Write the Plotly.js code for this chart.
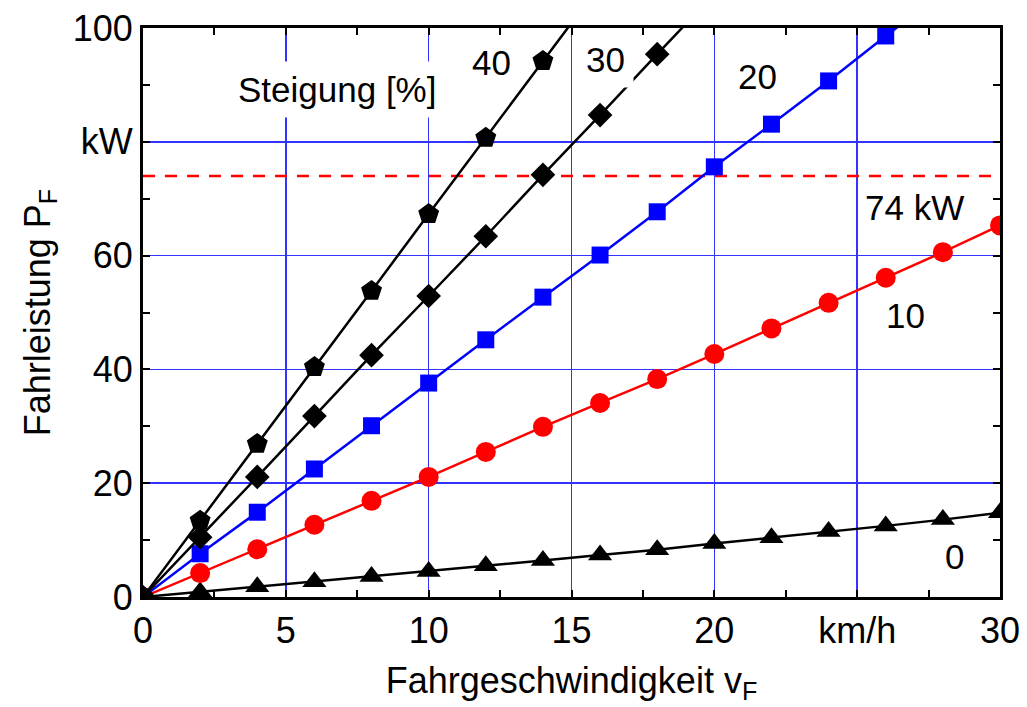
<!DOCTYPE html>
<html>
<head>
<meta charset="utf-8">
<script src="https://cdn.plot.ly/plotly-3.0.1.min.js"></script>
<style>html,body{margin:0;padding:0;background:#fff;}#chart{width:1027px;height:707px;}</style>
</head>
<body>
<div id="chart"></div>
<script>
// Speed (km/h)
const speed = [0, 2, 4, 6, 8, 10, 12, 14, 16, 18, 20, 22, 24, 26, 28, 30];
// Power (kW) per gradient
const p0  = [0, 0.9, 1.8, 2.7, 3.6, 4.5, 5.5, 6.4, 7.4, 8.3, 9.4, 10.4, 11.5, 12.5, 13.6, 14.8];
const p10 = [0, 4.2, 8.4, 12.7, 16.9, 21.1, 25.5, 29.9, 34.1, 38.3, 42.7, 47.2, 51.7, 56.1, 60.6, 65.3];
const p20 = [0, 7.6, 14.9, 22.5, 30.1, 37.6, 45.2, 52.7, 60.1, 67.7, 75.6, 83.1, 90.7, 98.6, 106.2];
const p30 = [0, 10.5, 21.1, 31.8, 42.5, 52.9, 63.4, 74.2, 84.7, 95.4, 106.0];
const p40 = [0, 13.4, 26.9, 40.4, 53.8, 67.3, 80.7, 94.2, 107.6];
const limitKW = 74;
const xRange = [0, 30];
const yRange = [0, 100];
const xTickVals = [0, 5, 10, 15, 20, 25, 30];
const xTickText = ['0', '5', '10', '15', '20', 'km/h', '30'];
const yTickVals = [0, 20, 40, 60, 80, 100];
const yTickText = ['0', '20', '40', '60', 'kW', '100'];
const labels = [
  {text: 'Steigung [%]', x: 6.8, y: 89.2, bg: true},
  {text: '40', x: 12.2, y: 94.0, bg: false},
  {text: '30', x: 16.2, y: 94.4, bg: true},
  {text: '20', x: 21.5, y: 91.4, bg: false},
  {text: '74 kW', x: 27.0, y: 68.5, bg: false},
  {text: '10', x: 26.7, y: 49.4, bg: false},
  {text: '0', x: 28.4, y: 7.2, bg: false}
];

const FONT = 'Arial, "Liberation Sans", sans-serif';

function series(y, color, symbol, size) {
  return {
    x: speed.slice(0, y.length), y: y, type: 'scatter', mode: 'lines+markers',
    line: {color: color, width: 2.5},
    marker: {color: color, symbol: symbol, size: size},
    cliponaxis: true, showlegend: false, hoverinfo: 'skip'
  };
}

const traces = [
  {x: xRange, y: [limitKW, limitKW], type: 'scatter', mode: 'lines',
   line: {color: '#ff0000', width: 2.5, dash: '12px,10px'}, showlegend: false, hoverinfo: 'skip'},
  series(p0, '#000000', 'triangle-up', 21),
  series(p10, '#ff0000', 'circle', 20),
  series(p20, '#0000ff', 'square', 17),
  series(p30, '#000000', 'diamond', 19),
  series(p40, '#000000', 'pentagon', 22)
];

const axisCommon = {
  showgrid: true, gridcolor: '#3333ff', gridwidth: 1.5,
  zeroline: false, showline: true, linecolor: '#000', linewidth: 3, mirror: 'ticks',
  ticks: 'inside', ticklen: 7, tickwidth: 2, tickcolor: '#000',
  tickfont: {family: FONT, size: 36, color: '#000'},
  tickmode: 'array', fixedrange: true
};

const layout = {
  width: 1027, height: 707,
  margin: {l: 143, r: 27, t: 28, b: 110},
  paper_bgcolor: '#fff', plot_bgcolor: '#fff',
  font: {family: FONT, color: '#000'},
  xaxis: Object.assign({}, axisCommon, {
    range: xRange, tickvals: xTickVals, ticktext: xTickText,
    minor: {tickmode: 'linear', tick0: 0, dtick: 2.5, ticks: 'inside', ticklen: 7, tickwidth: 2, tickcolor: '#000', showgrid: false},
    title: {text: 'Fahrgeschwindigkeit v<sub>F</sub>', font: {family: FONT, size: 36, color: '#000'}, standoff: 18}
  }),
  yaxis: Object.assign({}, axisCommon, {
    range: yRange, tickvals: yTickVals, ticktext: yTickText,
    minor: {tickmode: 'linear', tick0: 0, dtick: 10, ticks: 'inside', ticklen: 7, tickwidth: 2, tickcolor: '#000', showgrid: false},
    title: {text: 'Fahrleistung P<sub>F</sub>', font: {family: FONT, size: 36, color: '#000'}, standoff: 12}
  }),
  annotations: labels.map(l => ({
    text: l.text, x: l.x, y: l.y, xref: 'x', yref: 'y', showarrow: false,
    font: {family: FONT, size: 35, color: '#000'},
    bgcolor: l.bg ? '#ffffff' : 'rgba(0,0,0,0)', borderpad: l.bg ? 8 : 0
  }))
};

Plotly.newPlot('chart', traces, layout, {staticPlot: true, displayModeBar: false});
</script>
</body>
</html>
